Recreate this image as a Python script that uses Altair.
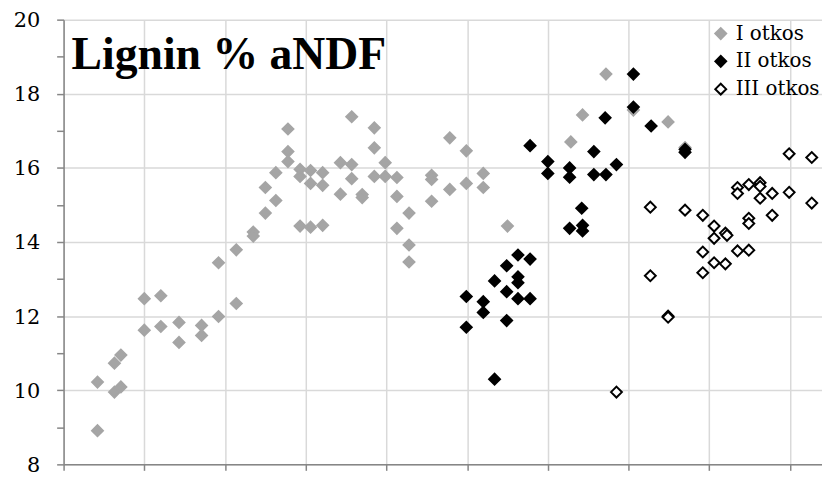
import altair as alt
import pandas as pd

series_names = ["I otkos", "II otkos", "III otkos"]

x1 = [4.2, 4.2, 6.3, 7.1, 6.3, 7.1, 10.0, 10.0, 12.05, 12.05, 14.3, 14.3, 17.1, 17.1,
      19.2, 19.2, 21.4, 21.4, 23.5, 23.5, 25.0, 25.0, 26.3, 26.3, 27.8, 27.8, 27.8,
      29.3, 29.3, 30.6, 30.6, 32.1, 32.1, 29.3, 30.6, 32.1, 34.3, 34.3, 35.7, 35.7, 35.7,
      37.0, 37.0, 38.5, 38.5, 38.5, 39.85, 39.85, 41.3, 41.3, 42.8, 41.3, 42.8, 42.8,
      45.6, 45.6, 45.6, 47.85, 47.85, 49.9, 49.9, 52.0, 52.0, 55.0, 62.85, 64.3, 67.2,
      70.6, 74.9, 77.0]
y1 = [8.91, 10.22, 10.73, 10.95, 9.95, 10.09, 12.47, 11.62, 12.55, 11.72, 11.83, 11.29, 11.75, 11.48,
      11.99, 13.44, 12.34, 13.79, 14.27, 14.16, 14.78, 15.47, 15.12, 15.87, 16.17, 16.44, 17.05,
      15.96, 15.77, 15.93, 15.58, 15.87, 15.53, 14.43, 14.40, 14.45, 16.14, 15.29, 17.38, 16.09, 15.71,
      15.28, 15.20, 17.08, 16.54, 15.77, 16.14, 15.77, 15.74, 15.23, 14.78, 14.37, 13.92, 13.46,
      15.80, 15.69, 15.10, 16.81, 15.42, 16.46, 15.58, 15.85, 15.47, 14.43, 16.70, 17.43, 18.53,
      17.56, 17.24, 16.55]

x2 = [49.9, 49.9, 52.0, 52.0, 53.4, 53.4, 54.9, 54.9, 54.9, 56.3, 56.3, 56.3, 56.3, 57.8, 57.8,
      57.8, 60.0, 60.0, 62.7, 62.7, 62.7, 64.3, 64.3, 64.2, 65.7, 65.7, 67.2, 68.5, 67.1, 70.6,
      70.6, 72.8, 77.0, 77.0]
y2 = [12.53, 11.70, 12.39, 12.10, 12.95, 10.30, 13.36, 12.66, 11.88, 13.65, 13.06, 12.90, 12.47, 13.54, 12.47,
      16.60, 16.17, 15.85, 16.00, 15.75, 14.37, 14.45, 14.30, 14.91, 16.44, 15.82, 15.82, 16.09, 17.35, 18.53,
      17.64, 17.13, 16.50, 16.42]

x3 = [72.7, 72.7, 74.9, 74.9, 68.5, 77.0, 79.2, 79.2, 79.2, 80.6, 80.6, 80.6, 82.0, 82.2, 82.0,
      83.5, 83.5, 83.5, 84.9, 84.9, 84.9, 84.9, 86.3, 86.3, 86.3, 87.8, 87.8, 89.9, 89.9, 92.7, 92.7]
y3 = [14.94, 13.09, 12.00, 11.97, 9.95, 14.86, 14.72, 13.73, 13.17, 14.43, 14.10, 13.44, 14.24, 14.18, 13.41,
      15.47, 15.31, 13.76, 15.55, 14.64, 14.50, 13.78, 15.60, 15.50, 15.18, 15.31, 14.72, 16.38, 15.34, 16.28, 15.05]

y_ticks = list(range(8, 21))
x_ticks = list(range(0, 100, 10))
title_text = "Lignin % aNDF"

rows = []
for name, xs, ys in zip(series_names, [x1, x2, x3], [y1, y2, y3]):
    for a, b in zip(xs, ys):
        rows.append({"x": a, "y": b, "s": name})
df = pd.DataFrame(rows)

fills = ["#a5a5a5", "#000000", "#ffffff"]
strokes = ["#a5a5a5", "#000000", "#000000"]
FONT = "Liberation Serif"
LBFONT = "DejaVu Serif"

legend = alt.Legend(title=None, orient="none", legendX=652, legendY=4,
                    symbolType="diamond", symbolSize=120, symbolStrokeWidth=2,
                    labelFont=LBFONT, labelFontSize=20, labelColor="#000000",
                    labelOffset=5, rowPadding=8, padding=0)

points = alt.Chart(df).mark_point(shape="diamond", size=120, strokeWidth=2, opacity=1).encode(
    x=alt.X("x:Q", scale=alt.Scale(domain=[0, 93.97], nice=False, zero=False),
            axis=alt.Axis(values=x_ticks, labels=False, title=None, ticks=True, tickSize=6,
                          tickColor="#868686", tickWidth=1.5, domainColor="#868686", domainWidth=1.5,
                          grid=True, gridColor="#d9d9d9", gridWidth=1.5)),
    y=alt.Y("y:Q", scale=alt.Scale(domain=[8, 20], nice=False, zero=False),
            axis=alt.Axis(values=y_ticks, title=None, tickSize=7, tickColor="#868686", tickWidth=1.5,
                          domainColor="#868686", domainWidth=1.5,
                          labelExpr="datum.value % 2 === 0 ? datum.label : ''",
                          labelFont=LBFONT, labelFontSize=21, labelColor="#000000", labelPadding=17,
                          labelOffset=1,
                          grid=True, gridColor="#d9d9d9", gridWidth=1.5,
                          gridOpacity={"condition": {"test": "datum.value % 2 === 0", "value": 1}, "value": 0})),
    fill=alt.Fill("s:N", scale=alt.Scale(domain=series_names, range=fills), legend=legend),
    stroke=alt.Stroke("s:N", scale=alt.Scale(domain=series_names, range=strokes), legend=legend),
)

title = alt.Chart(pd.DataFrame({"t": [title_text]})).mark_text(
    align="left", baseline="alphabetic", font=FONT, fontSize=46, fontWeight="bold", color="#000000"
).encode(x=alt.value(8), y=alt.value(50), text="t:N")

chart = alt.layer(points, title).properties(
    width=764, height=448,
    autosize=alt.AutoSizeParams(type="none"),
    padding={"left": 56, "top": 10, "right": 0, "bottom": 12},
).configure_view(stroke=None)

chart.save("out.html", embed_options={"renderer": "svg", "actions": False})
